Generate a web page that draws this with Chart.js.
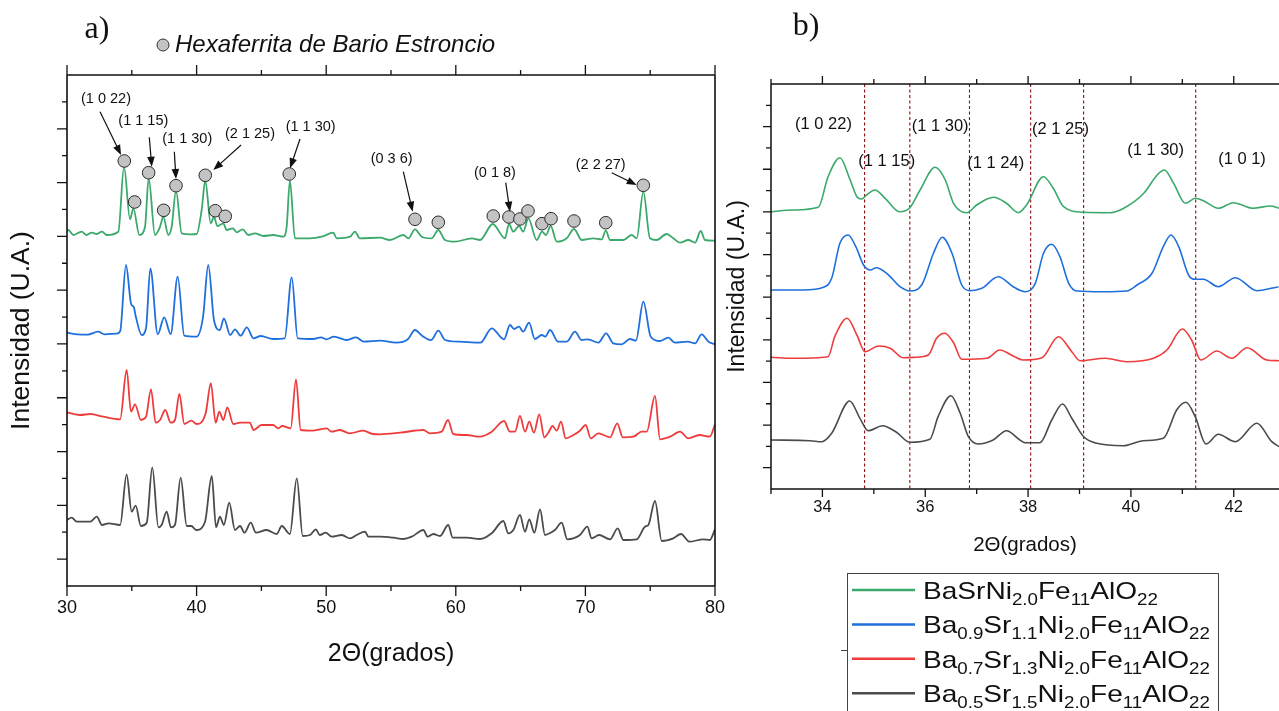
<!DOCTYPE html>
<html>
<head>
<meta charset="utf-8">
<title>DRX hexaferritas Ba-Sr</title>
<script src="https://cdn.jsdelivr.net/npm/chart.js@4.4.0/dist/chart.umd.min.js"></script>
<style>
  html, body { margin: 0; padding: 0; background: #fff; }
  #wrap { position: relative; width: 1279px; height: 711px; overflow: hidden; }
  #wrap canvas { position: absolute; left: 0; top: 0; }
</style>
</head>
<body>
<div id="wrap">
  <canvas id="chartA" width="1279" height="711"></canvas>
  <canvas id="chartB" width="1279" height="711"></canvas>
</div>
<script>
// Patrones de difraccion (2theta, intensidad desplazada), panel a) 30-80
const greenA = [[30,355],[30.1,356],[30.5,351],[31.13,354.3],[31.5,351],[31.9,353.3],[32.3,352],[32.7,354.3],[33.06,351],[33.96,354.3],[34.4,419.3],[34.86,366.7],[35.12,377.7],[35.58,351],[36.02,359.3],[36.3,407.7],[36.79,351],[37.18,359.3],[37.43,369.3],[37.82,351],[38.08,359.3],[38.41,395.3],[38.85,352.7],[39.5,351.7],[40,352],[40.39,376],[40.67,405.3],[41.09,362.7],[41.34,369.3],[41.6,360],[42.06,362.7],[42.32,356],[42.79,357.7],[43.1,353.7],[43.56,356.7],[43.99,351],[44.5,352.7],[45.15,350],[45.92,351],[46.7,349.3],[46.95,359.3],[47.2,405.3],[47.59,347.7],[48.75,347.7],[49.65,349.3],[50.55,353.3],[50.81,347.7],[51.84,349.3],[52.22,354.3],[52.6,347.7],[54.15,348.3],[54.92,346],[55.95,351],[56.34,347.7],[56.85,356.7],[57.37,349.3],[58.14,347.7],[58.65,356],[59.17,346],[59.94,344.3],[61.23,347.7],[61.87,346],[62.85,362],[63.8,347.7],[64.1,362],[64.44,354.3],[64.88,360],[65.2,354.3],[65.6,367.7],[66.24,346],[66.65,354.3],[66.96,351],[67.32,360],[67.79,344.3],[68.56,347.7],[69.12,357],[69.72,346],[70.61,347.7],[71.26,346.7],[71.57,355.3],[71.9,346],[72.93,346],[73.57,351],[73.96,347.7],[74.47,394.3],[74.98,347.7],[75.5,346],[76.27,352],[76.79,347.7],[77.3,343.3],[77.94,346],[78.46,343.3],[78.9,355],[79.23,346],[80,345.3]];
const blueA = [[30,253.3],[30.8,251.7],[31.6,251.3],[32.4,254.3],[32.9,251.7],[33.8,252.3],[34.1,254.7],[34.55,321],[34.95,282],[35.15,279],[35.3,270],[35.76,251],[36.1,258],[36.43,317.7],[37,251.7],[37.5,268.7],[38,252],[38.54,309.3],[39.05,250.3],[40,249.3],[40.5,269.3],[40.9,321],[41.34,266],[41.8,256],[42.1,267.7],[42.6,251],[42.96,256.7],[43.4,250.3],[43.87,258.7],[44.4,247.7],[44.95,250],[45.9,247],[46.8,247.7],[47.34,308.7],[47.8,247.7],[49,247],[49.6,248.7],[50,246.7],[50.6,249.3],[51.6,246],[52.3,248.7],[52.9,244.3],[54.15,245.3],[55.4,243.3],[56.3,246.7],[56.85,256],[57.4,250.3],[58.1,246],[58.65,255.3],[59.17,246],[60.3,244.3],[61.9,243.3],[62.77,257.7],[63.72,246.7],[64.18,261],[64.5,257],[64.88,259.3],[65.2,254.3],[65.65,263.3],[66.1,247],[66.63,251],[66.9,249.3],[67.27,256],[67.9,244.3],[68.55,244.3],[69.2,254.3],[69.7,246],[70.2,246.7],[71,243.3],[71.6,252.7],[72.15,242.7],[72.8,241.7],[73.44,247],[73.9,245.3],[74.47,284.3],[75.04,249.3],[75.76,245],[76.4,248.3],[76.9,243.3],[77.9,244.3],[78.46,242.7],[78.97,251.7],[79.5,244.3],[80,241.7]];
const redA = [[30,173.7],[31,171],[31.8,172],[32.8,169.3],[34.1,166.7],[34.6,216],[34.94,174.3],[35.25,181.7],[35.7,166],[36.1,169.3],[36.48,196.7],[36.84,163.3],[37.18,166],[37.58,176],[38,163.3],[38.33,166],[38.67,192],[39.05,162],[39.6,165.3],[40,162],[40.7,172.7],[41.1,202.7],[41.47,163.3],[41.75,174.3],[42.06,166],[42.37,178.7],[42.83,162],[43.35,163.3],[44.1,163.3],[44.4,156],[45,161],[45.9,161],[46.3,157.7],[46.6,160],[47.26,157.7],[47.67,206.7],[48.03,156],[49,155.3],[49.5,156.7],[50.04,157.7],[50.4,154.3],[51.06,156],[51.8,152.7],[52.86,155.3],[53.6,152],[54.15,151.7],[55.7,153.3],[57.5,156],[58,152.7],[58.9,154.3],[59.4,166],[59.8,152],[60.8,151],[61.87,149.3],[62.77,154.3],[63.72,165],[64.18,154.3],[64.57,154.3],[64.95,170],[65.34,154.3],[65.67,164.3],[66.03,153.3],[66.44,171.7],[66.83,148.7],[67.14,153.3],[67.47,160],[67.78,155.3],[68.12,164.3],[68.48,147.7],[69.07,151],[69.58,155.3],[70.02,161],[70.41,147.7],[71,152.7],[71.9,148.7],[72.46,162.7],[72.88,148.7],[73.7,149.3],[74.34,154.3],[74.73,154.3],[75.37,190],[75.76,146.7],[76.53,149.3],[77.3,154.3],[77.94,147.7],[78.8,151],[79.6,149.3],[80,161.7]];
const grayA = [[30,66],[30.36,68.3],[30.75,64.3],[31.8,64.3],[32.3,69.3],[32.7,61],[33.2,62.7],[34.1,61],[34.6,111.7],[34.99,74.3],[35.3,80.3],[35.7,60],[36.15,63.3],[36.58,118.7],[37.05,58.7],[37.3,61],[37.69,74.3],[38.02,58.7],[38.33,61],[38.77,108.3],[39.24,60],[39.6,60],[39.96,56],[40.65,64.3],[41.17,110],[41.5,58.7],[41.8,69.3],[42.1,61],[42.52,83.3],[42.96,56],[43.35,60],[43.7,53.3],[44.18,63.3],[44.58,53.3],[45.4,56],[46.18,52],[46.57,60],[47.2,52],[47.73,107.7],[48.19,50],[48.75,51],[49.2,56.7],[49.5,51],[49.96,53.3],[50.42,49.3],[51.2,51],[51.84,47.7],[52.35,51],[53,54.3],[53.25,49.3],[54.15,49.3],[55.2,48.3],[55.95,47],[56.6,49.3],[57.5,56],[57.83,49.3],[58.27,52],[58.78,50],[59.42,61],[59.76,48.3],[60.84,48.3],[61.87,47],[62.77,52.7],[63.67,65],[64.05,52.7],[64.44,56],[64.95,71],[65.34,54.3],[65.67,66.7],[66.06,53.3],[66.5,76.7],[66.88,51],[67.32,53.3],[67.65,56],[68.17,63.3],[68.6,46.7],[69.58,51],[70.15,59.3],[70.48,47.7],[71.05,51],[71.9,46.7],[72.49,57.7],[72.93,46],[73.96,46.7],[74.6,59.3],[74.86,61],[75.37,85],[75.89,45],[76.78,47.7],[77.38,52],[78.02,44.3],[79.1,46.7],[79.6,46],[80,56.7]];

// Picos indexados de la hexaferrita (marcadores grises)
const hexPeaks = [[34.42,425],[35.22,384],[36.3,413.3],[37.46,375.7],[38.41,400.3],[40.67,410.7],[41.44,375.3],[42.21,369.7],[47.15,412],[56.85,366.7],[58.65,363.7],[62.89,370],[64.1,369],[64.95,367],[65.57,375],[66.65,362.3],[67.35,367.3],[69.12,365],[71.57,363.3],[74.47,400.7]];
// indices (hkl): texto, posicion del texto, inicio y punta de la flecha
const hklTextA = ['(1 0 22)','(1 1 15)','(1 1 30)','(2 1 25)','(1 1 30)','(0 3 6)','(0 1 8)','(2 2 27)'];
const hklPosA = [[33.01,486.7],[35.89,465.3],[39.28,446.7],[44.12,452],[48.8,459.3],[55.05,426.7],[63.02,412.7],[71.18,421]];
const hklArrowA = [[32.55,474.3,34.17,431],[36.35,448.7,36.54,419.3],[38.28,434.3,38.41,407],[43.43,441,41.29,416],[47.98,447,47.21,417.7],[55.95,414.3,56.67,374.3],[63.85,403.3,64.18,374.3],[72.03,413.3,73.96,401]];

// Panel b) ampliacion 33-43
const greenB = [[33,277.3],[33.43,279],[33.92,281.7],[34.11,312.3],[34.34,331.3],[34.54,309],[34.67,292.3],[34.76,290],[34.86,294],[35.02,299],[35.22,290.7],[35.5,277.3],[35.69,280.7],[35.9,299],[36.19,321.7],[36.39,309],[36.55,285.7],[36.81,276.3],[37,284],[37.33,291.7],[37.58,285.7],[37.81,276.3],[37.97,284],[38.3,312.3],[38.49,300.7],[38.69,282.3],[39.08,276.7],[39.6,276.3],[39.86,280.7],[40.25,295.7],[40.51,314],[40.65,319],[40.83,305.7],[41.06,285.7],[41.25,290.7],[41.41,288.3],[41.7,280.7],[41.99,286.3],[42.38,280.7],[42.71,283],[42.88,280.7]];
const blueB = [[33,199],[33.63,199],[34.02,201.7],[34.18,210.7],[34.34,245.7],[34.5,254],[34.65,242.3],[34.8,224],[34.93,219],[35.05,221.3],[35.25,215.7],[35.51,202.3],[35.7,198],[35.93,204],[36.16,235.7],[36.33,251.7],[36.52,235.7],[36.71,204],[36.87,198.3],[37.1,200.7],[37.42,212.3],[37.71,202.3],[37.94,197.3],[38.14,205.7],[38.3,235.7],[38.46,244.7],[38.62,232.3],[38.79,205.7],[38.95,198],[39.46,197.3],[39.92,198],[40.12,204],[40.41,215.7],[40.63,242.3],[40.78,254],[40.93,242.3],[41.12,214],[41.25,209.7],[41.41,209.7],[41.7,202.3],[42.03,211.3],[42.45,198.3],[42.87,202.3]];
const redB = [[33,131.7],[33.43,130.7],[34.11,132.3],[34.24,152.3],[34.48,170.7],[34.67,154],[34.83,137.3],[35.09,143],[35.32,140.7],[35.57,131.3],[35.8,131.7],[36.06,134],[36.22,150.7],[36.38,155.7],[36.55,146.3],[36.71,129.7],[37.2,130.7],[37.45,139],[37.71,133],[37.9,129],[38.27,131.3],[38.59,152.3],[38.85,137.3],[39.01,128.3],[39.5,130.7],[39.92,127.3],[40.44,130.7],[40.7,139],[41,160],[41.18,149],[41.36,129],[41.67,138],[41.96,130.7],[42.26,141.3],[42.64,129],[42.88,128.3]];
const grayB = [[33,49],[33.76,48.3],[33.99,47.3],[34.18,55.7],[34.53,88],[34.73,70.7],[34.89,58.3],[35.17,63.3],[35.44,56.7],[35.7,46.7],[36.09,49.7],[36.25,72.3],[36.5,93.3],[36.68,75.7],[36.84,52.3],[37.03,45],[37.32,49],[37.58,58.3],[37.84,49],[37.94,46.3],[38.23,46.3],[38.46,69],[38.67,85],[38.85,70.7],[39.08,52.3],[39.34,45.7],[39.85,43.3],[40.24,48.3],[40.63,50.7],[40.89,79],[41.07,86.7],[41.25,72.3],[41.46,45],[41.7,54.7],[42.03,47.3],[42.45,65.7],[42.74,47.3],[42.88,42.3]];
const refLinesB = [34.82, 35.70, 36.86, 38.05, 39.08, 41.26];
const hklTextB = ['(1 0 22)','(1 1 15)','(1 1 30)','(1 1 24)','(2 1 25)','(1 1 30)','(1 0 1)'];
const hklPosB = [[34.02,364.7],[35.25,328],[36.29,362.3],[37.37,325.7],[38.63,359.7],[40.48,338.3],[42.16,330]];

const seriesNames = ['BaSrNi_{2.0}Fe_{11}AlO_{22}', 'Ba_{0.9}Sr_{1.1}Ni_{2.0}Fe_{11}AlO_{22}', 'Ba_{0.7}Sr_{1.3}Ni_{2.0}Fe_{11}AlO_{22}', 'Ba_{0.5}Sr_{1.5}Ni_{2.0}Fe_{11}AlO_{22}'];
const seriesColors = ['#3aa96b', '#1f6fdc', '#ee3c3c', '#4b4b4b'];

const FONT = 'Arial, "Liberation Sans", sans-serif';
const toXY = pts => pts.map(([x, y]) => ({ x, y }));

function curve(label, pts, color, width) {
  return { label, data: toXY(pts), borderColor: color, borderWidth: width, pointRadius: 0,
           cubicInterpolationMode: 'monotone', fill: false, order: 2 };
}

// marco completo + marcas mayores/menores hacia afuera
const axisFrame = {
  id: 'axisFrame',
  afterDraw(chart, args, o) {
    const { ctx, chartArea: a } = chart;
    const xs = chart.scales.x, ys = chart.scales.y;
    ctx.save();
    ctx.strokeStyle = '#111';
    ctx.lineWidth = o.lineWidth;
    ctx.beginPath();
    ctx.moveTo(a.left, a.top); ctx.lineTo(a.right, a.top);
    ctx.moveTo(a.left, a.top); ctx.lineTo(a.left, a.bottom); ctx.lineTo(a.right, a.bottom);
    if (o.rightSide) { ctx.moveTo(a.right, a.top); ctx.lineTo(a.right, a.bottom); }
    ctx.stroke();
    ctx.lineWidth = 1.3;
    ctx.beginPath();
    for (let k = Math.ceil(xs.min / o.xStep); k * o.xStep <= xs.max + 1e-9; k++) {
      const px = xs.getPixelForValue(k * o.xStep);
      const len = k % 2 === 0 ? o.major : o.minor;
      ctx.moveTo(px, a.top); ctx.lineTo(px, a.top - len);
      ctx.moveTo(px, a.bottom); ctx.lineTo(px, a.bottom + len);
    }
    for (let i = 1; i < o.yDiv; i++) {
      const py = ys.getPixelForValue(ys.min + i * (ys.max - ys.min) / o.yDiv);
      const len = i % 2 === 1 ? o.major : o.minor;
      ctx.moveTo(a.left, py); ctx.lineTo(a.left - len, py);
    }
    ctx.stroke();
    ctx.restore();
  }
};

function arrow(ctx, x0, y0, x1, y1) {
  const ang = Math.atan2(y1 - y0, x1 - x0), L = 10, W = 3.8;
  ctx.beginPath();
  ctx.moveTo(x0, y0);
  ctx.lineTo(x1 - Math.cos(ang) * L * 0.8, y1 - Math.sin(ang) * L * 0.8);
  ctx.stroke();
  ctx.beginPath();
  ctx.moveTo(x1, y1);
  ctx.lineTo(x1 - L * Math.cos(ang) + W * Math.sin(ang), y1 - L * Math.sin(ang) - W * Math.cos(ang));
  ctx.lineTo(x1 - L * Math.cos(ang) - W * Math.sin(ang), y1 - L * Math.sin(ang) + W * Math.cos(ang));
  ctx.closePath();
  ctx.fill();
}

const hklNotes = {
  id: 'hklNotes',
  afterDatasetsDraw(chart, args, o) {
    const { ctx } = chart;
    const xs = chart.scales.x, ys = chart.scales.y;
    ctx.save();
    ctx.fillStyle = '#111';
    ctx.strokeStyle = '#111';
    ctx.lineWidth = 1.2;
    ctx.font = o.size + 'px ' + FONT;
    ctx.textAlign = 'center';
    ctx.textBaseline = 'middle';
    o.texts.forEach((t, i) => {
      ctx.fillText(t, xs.getPixelForValue(o.pos[i][0]), ys.getPixelForValue(o.pos[i][1]));
    });
    (o.arrows || []).forEach(([x0, y0, x1, y1]) => {
      arrow(ctx, xs.getPixelForValue(x0), ys.getPixelForValue(y0), xs.getPixelForValue(x1), ys.getPixelForValue(y1));
    });
    ctx.restore();
  }
};

// lineas de referencia punteadas del panel b
const refLines = {
  id: 'refLines',
  beforeDatasetsDraw(chart) {
    const { ctx, chartArea: a } = chart;
    const xs = chart.scales.x;
    ctx.save();
    ctx.strokeStyle = '#8e1010';
    ctx.lineWidth = 1.1;
    ctx.setLineDash([3, 2.5]);
    refLinesB.forEach(v => {
      const px = xs.getPixelForValue(v);
      ctx.beginPath(); ctx.moveTo(px, a.top); ctx.lineTo(px, a.bottom); ctx.stroke();
    });
    ctx.restore();
  }
};

const headerA = {
  id: 'headerA',
  afterDraw(chart) {
    const ctx = chart.ctx;
    ctx.save();
    ctx.fillStyle = '#111';
    ctx.textBaseline = 'middle';
    ctx.textAlign = 'center';
    ctx.font = '32px "Liberation Serif", "Times New Roman", serif';
    ctx.fillText('a)', 97, 30);
    ctx.beginPath();
    ctx.arc(163, 45, 6, 0, Math.PI * 2);
    ctx.fillStyle = '#c3c3c3'; ctx.fill();
    ctx.strokeStyle = '#333'; ctx.lineWidth = 1; ctx.stroke();
    ctx.fillStyle = '#111';
    ctx.textAlign = 'left';
    ctx.font = 'italic 24px ' + FONT;
    ctx.fillText('Hexaferrita de Bario Estroncio', 175, 45);
    ctx.restore();
  }
};

function drawFormula(ctx, text, x, base) {
  ctx.save();
  ctx.translate(x, base);
  ctx.scale(1.17, 1);
  ctx.textAlign = 'left';
  ctx.textBaseline = 'alphabetic';
  let cx = 0;
  text.split(/(_\{[^}]*\})/).filter(s => s).forEach(seg => {
    if (seg.startsWith('_{')) {
      const s = seg.slice(2, -1);
      ctx.font = '16px ' + FONT;
      ctx.fillText(s, cx, 6);
      cx += ctx.measureText(s).width;
    } else {
      ctx.font = '24px ' + FONT;
      ctx.fillText(seg, cx, 0);
      cx += ctx.measureText(seg).width;
    }
  });
  ctx.restore();
}

const headerB = {
  id: 'headerB',
  afterDraw(chart) {
    const ctx = chart.ctx;
    ctx.save();
    ctx.fillStyle = '#111';
    ctx.textBaseline = 'middle';
    ctx.textAlign = 'center';
    ctx.font = '32px "Liberation Serif", "Times New Roman", serif';
    ctx.fillText('b)', 806, 27);
    // leyenda con subindices
    ctx.strokeStyle = '#444'; ctx.lineWidth = 1;
    ctx.strokeRect(847.5, 573.5, 371, 150);
    ctx.beginPath(); ctx.moveTo(841, 650.5); ctx.lineTo(847, 650.5); ctx.stroke();
    seriesNames.forEach((name, i) => {
      const y = 590 + i * 34.4;
      ctx.strokeStyle = seriesColors[i]; ctx.lineWidth = 2.5;
      ctx.beginPath(); ctx.moveTo(852, y); ctx.lineTo(915, y); ctx.stroke();
      ctx.fillStyle = '#111';
      drawFormula(ctx, name, 923, y + 9);
    });
    ctx.restore();
  }
};

const baseOpts = {
  responsive: false,
  devicePixelRatio: 1,
  animation: false,
  events: [],
  plugins: { legend: { display: false }, tooltip: { enabled: false } }
};

new Chart(document.getElementById('chartA'), {
  type: 'line',
  data: {
    datasets: [
      { label: 'Hexaferrita de Bario Estroncio', data: toXY(hexPeaks), showLine: false, pointRadius: 6.3,
        pointBackgroundColor: '#c3c3c3', pointBorderColor: '#2a2a2a', pointBorderWidth: 1, order: 0 },
      curve('BaSrNi2.0Fe11AlO22', greenA, seriesColors[0], 1.8),
      curve('Ba0.9Sr1.1Ni2.0Fe11AlO22', blueA, seriesColors[1], 1.8),
      curve('Ba0.7Sr1.3Ni2.0Fe11AlO22', redA, seriesColors[2], 1.8),
      curve('Ba0.5Sr1.5Ni2.0Fe11AlO22', grayA, seriesColors[3], 1.8)
    ]
  },
  options: {
    ...baseOpts,
    layout: { padding: { left: 0, top: 75, right: 564, bottom: 0 } },
    scales: {
      x: {
        type: 'linear', min: 30, max: 80,
        afterFit: s => { s.height = 125; },
        grid: { display: false, drawTicks: false }, border: { display: false },
        ticks: { stepSize: 10, autoSkip: false, maxRotation: 0, padding: 11, color: '#111', font: { size: 18, family: FONT } },
        title: { display: true, text: '2Θ(grados)', color: '#111', font: { size: 25, family: FONT }, padding: { top: 0, bottom: 42 } }
      },
      y: {
        type: 'linear', min: 0, max: 511,
        afterFit: s => { s.width = 67; },
        grid: { display: false, drawTicks: false }, border: { display: false },
        ticks: { display: false },
        title: { display: true, text: 'Intensidad (U.A.)', color: '#111', font: { size: 26.5, family: FONT }, padding: { top: 6, bottom: 0 } }
      }
    },
    plugins: {
      ...baseOpts.plugins,
      axisFrame: { lineWidth: 1.6, xStep: 5, major: 10, minor: 5, yDiv: 19, rightSide: true },
      hklNotes: { size: 14.5, texts: hklTextA, pos: hklPosA, arrows: hklArrowA }
    }
  },
  plugins: [axisFrame, hklNotes, headerA]
});

new Chart(document.getElementById('chartB'), {
  type: 'line',
  data: {
    datasets: [
      curve('BaSrNi2.0Fe11AlO22', greenB, seriesColors[0], 1.6),
      curve('Ba0.9Sr1.1Ni2.0Fe11AlO22', blueB, seriesColors[1], 1.6),
      curve('Ba0.7Sr1.3Ni2.0Fe11AlO22', redB, seriesColors[2], 1.6),
      curve('Ba0.5Sr1.5Ni2.0Fe11AlO22', grayB, seriesColors[3], 1.6)
    ]
  },
  options: {
    ...baseOpts,
    layout: { padding: { left: 700, top: 84, right: 0, bottom: 0 } },
    scales: {
      x: {
        type: 'linear', min: 33, max: 42.88,
        afterFit: s => { s.height = 222; },
        grid: { display: false, drawTicks: false }, border: { display: false },
        ticks: { stepSize: 1, includeBounds: false, autoSkip: false, maxRotation: 0, padding: 9, color: '#111', font: { size: 16.5, family: FONT },
                 callback: v => (Number.isInteger(v) && v % 2 === 0) ? String(v) : '' },
        title: { display: true, text: '2Θ(grados)', color: '#111', font: { size: 20.5, family: FONT }, padding: { top: 0, bottom: 153.7 } }
      },
      y: {
        type: 'linear', min: 0, max: 405,
        afterFit: s => { s.width = 71; },
        grid: { display: false, drawTicks: false }, border: { display: false },
        ticks: { display: false },
        title: { display: true, text: 'Intensidad (U.A.)', color: '#111', font: { size: 23, family: FONT }, padding: { top: 24, bottom: 0 } }
      }
    },
    plugins: {
      ...baseOpts.plugins,
      axisFrame: { lineWidth: 1.5, xStep: 1, major: 8, minor: 5, yDiv: 19, rightSide: false },
      hklNotes: { size: 16.5, texts: hklTextB, pos: hklPosB }
    }
  },
  plugins: [refLines, axisFrame, hklNotes, headerB]
});
</script>
</body>
</html>
